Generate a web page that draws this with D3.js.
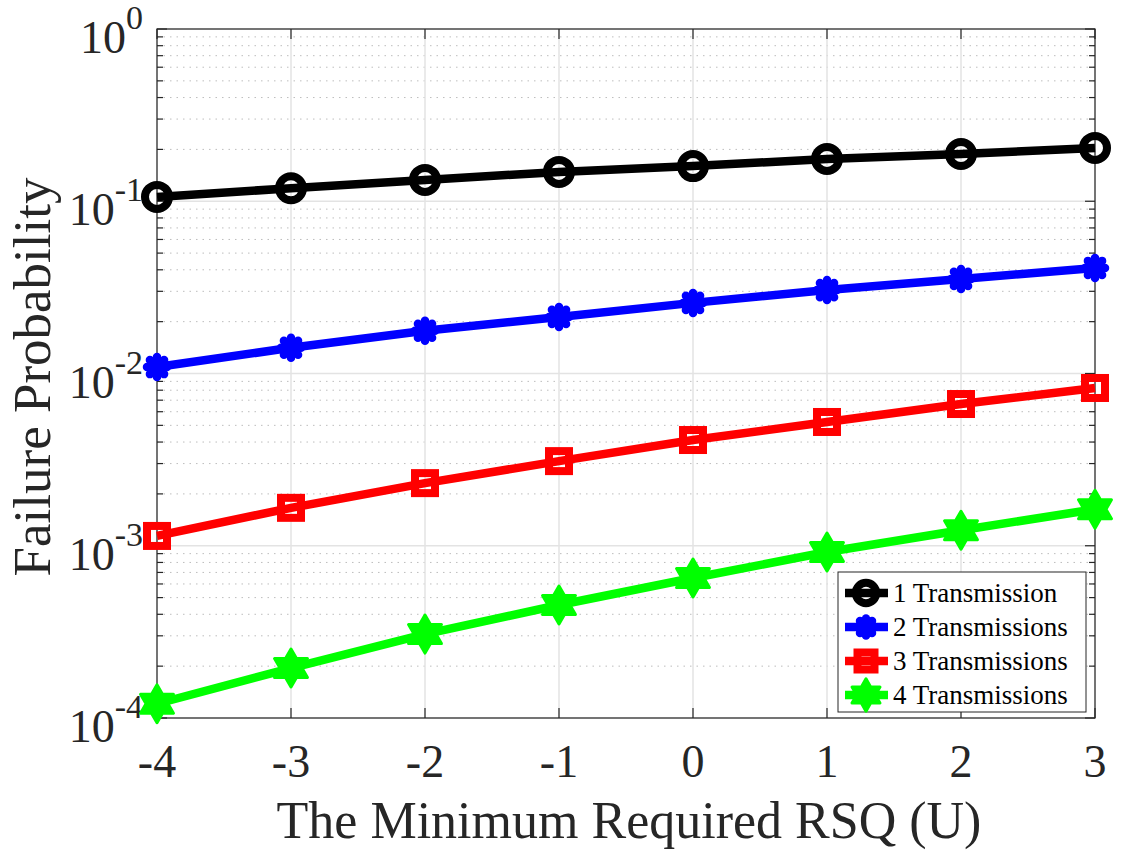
<!doctype html>
<html>
<head>
<meta charset="utf-8">
<script src="https://d3js.org/d3.v7.min.js"></script>
<style>
body { margin: 0; background: white; }
text { font-family: "Liberation Serif", "Times New Roman", serif; fill: #262626; }
</style>
</head>
<body>
<svg id="chart" width="1121" height="853"></svg>
<script>
// data
var xValues = [-4, -3, -2, -1, 0, 1, 2, 3];
var tx1 = [0.106, 0.119, 0.133, 0.148, 0.160, 0.176, 0.188, 0.204];
var tx2 = [0.0109, 0.0141, 0.0177, 0.0213, 0.0257, 0.0305, 0.0354, 0.0410];
var tx3 = [0.00114, 0.00166, 0.00231, 0.00310, 0.00411, 0.00523, 0.00665, 0.00824];
var tx4 = [0.000121, 0.000195, 0.000307, 0.000453, 0.000650, 0.000920, 0.00123, 0.00163];
var seriesNames = ["1 Transmission", "2 Transmissions", "3 Transmissions", "4 Transmissions"];
var yExponents = [0, -1, -2, -3, -4];

var series = [
  {name: seriesNames[0], vals: tx1, color: "#000000", marker: "circle"},
  {name: seriesNames[1], vals: tx2, color: "#0000ff", marker: "asterisk"},
  {name: seriesNames[2], vals: tx3, color: "#ff0000", marker: "square"},
  {name: seriesNames[3], vals: tx4, color: "#00ff00", marker: "hexagram"}
];

var svg = d3.select("#chart");
var pLeft = 157, pRight = 1095, pTop = 29, pBottom = 718;

var x = d3.scaleLinear().domain([-4, 3]).range([pLeft, pRight]);
var y = d3.scaleLog().domain([1e-4, 1]).range([pBottom, pTop]);

var grid = svg.append("g");
// minor grid (dotted)
yExponents.slice(1).forEach(function(e) {
  for (var k = 2; k <= 9; k++) {
    var v = k * Math.pow(10, e);
    grid.append("line")
      .attr("x1", pLeft).attr("x2", pRight)
      .attr("y1", y(v)).attr("y2", y(v))
      .style("stroke", "#bdbdbd").style("stroke-width", 1)
      .style("stroke-dasharray", "1.5,5");
  }
});
// major grid
yExponents.forEach(function(e) {
  grid.append("line")
    .attr("x1", pLeft).attr("x2", pRight)
    .attr("y1", y(Math.pow(10, e))).attr("y2", y(Math.pow(10, e)))
    .style("stroke", "#e3e3e3").style("stroke-width", 1.5);
});
xValues.forEach(function(v) {
  grid.append("line")
    .attr("x1", x(v)).attr("x2", x(v))
    .attr("y1", pTop).attr("y2", pBottom)
    .style("stroke", "#e3e3e3").style("stroke-width", 1.5);
});

// ticks
var ticks = svg.append("g").style("stroke", "#262626").style("stroke-width", 1.2);
xValues.forEach(function(v) {
  ticks.append("line").attr("x1", x(v)).attr("x2", x(v)).attr("y1", pBottom).attr("y2", pBottom - 10);
  ticks.append("line").attr("x1", x(v)).attr("x2", x(v)).attr("y1", pTop).attr("y2", pTop + 10);
});
yExponents.forEach(function(e) {
  var yy = y(Math.pow(10, e));
  ticks.append("line").attr("x1", pLeft).attr("x2", pLeft + 10).attr("y1", yy).attr("y2", yy);
  ticks.append("line").attr("x1", pRight).attr("x2", pRight - 10).attr("y1", yy).attr("y2", yy);
  if (e > -4) {
    for (var k = 2; k <= 9; k++) {
      var ym = y(k * Math.pow(10, e - 1));
      ticks.append("line").attr("x1", pLeft).attr("x2", pLeft + 6).attr("y1", ym).attr("y2", ym);
      ticks.append("line").attr("x1", pRight).attr("x2", pRight - 6).attr("y1", ym).attr("y2", ym);
    }
  }
});

// box
svg.append("rect")
  .attr("x", pLeft).attr("y", pTop)
  .attr("width", pRight - pLeft).attr("height", pBottom - pTop)
  .style("fill", "none").style("stroke", "#262626").style("stroke-width", 1.2);

// tick labels
xValues.forEach(function(v) {
  svg.append("text")
    .attr("x", x(v)).attr("y", 777)
    .attr("text-anchor", "middle")
    .style("font-size", "46px")
    .text(v < 0 ? "-" + Math.abs(v) : v);
});
yExponents.forEach(function(e) {
  var t = svg.append("text")
    .attr("x", 143).attr("y", y(Math.pow(10, e)) + 24)
    .attr("text-anchor", "end")
    .style("font-size", "46px");
  t.append("tspan").text("10");
  t.append("tspan").attr("dy", -24).style("font-size", "34px").text(e);
});

// axis labels
svg.append("text")
  .attr("x", 629).attr("y", 838)
  .attr("text-anchor", "middle")
  .style("font-size", "52px")
  .text("The Minimum Required RSQ (U)");
svg.append("text")
  .attr("transform", "translate(50,377) rotate(-90)")
  .attr("text-anchor", "middle")
  .style("font-size", "53px")
  .text("Failure Probability");

// marker drawing
function drawMarker(g, type, color, cx, cy, scale) {
  scale = scale || 1;
  if (type === "circle") {
    g.append("circle").attr("cx", cx).attr("cy", cy).attr("r", 12 * scale)
      .style("fill", "none").style("stroke", color).style("stroke-width", 8);
  } else if (type === "square") {
    var s = 20 * scale;
    g.append("rect").attr("x", cx - s / 2).attr("y", cy - s / 2).attr("width", s).attr("height", s)
      .style("fill", "none").style("stroke", color).style("stroke-width", 8);
  } else if (type === "asterisk") {
    var r = 10 * scale;
    [0, 45, 90, 135].forEach(function(a) {
      var rad = a * Math.PI / 180;
      g.append("line")
        .attr("x1", cx - r * Math.cos(rad)).attr("y1", cy - r * Math.sin(rad))
        .attr("x2", cx + r * Math.cos(rad)).attr("y2", cy + r * Math.sin(rad))
        .style("stroke", color).style("stroke-width", 8.5).style("stroke-linecap", "round");
    });
  } else if (type === "hexagram") {
    var ro = 19 * scale, ri = ro / Math.sqrt(3), pts = [];
    for (var i = 0; i < 12; i++) {
      var rr = i % 2 === 0 ? ro : ri;
      var ang = -Math.PI / 2 + i * Math.PI / 6;
      pts.push([cx + rr * Math.cos(ang), cy + rr * Math.sin(ang)]);
    }
    g.append("polygon").attr("points", pts.map(function(p) { return p.join(","); }).join(" "))
      .style("fill", color).style("stroke", color).style("stroke-width", 3)
      .style("stroke-linejoin", "round");
  }
}

var line = d3.line()
  .x(function(d, i) { return x(xValues[i]); })
  .y(function(d) { return y(d); });

series.forEach(function(s) {
  var g = svg.append("g");
  g.append("path").datum(s.vals).attr("d", line)
    .style("fill", "none").style("stroke", s.color).style("stroke-width", 8.5);
  s.vals.forEach(function(v, i) {
    drawMarker(g, s.marker, s.color, x(xValues[i]), y(v));
  });
});

// legend
var lg = svg.append("g");
lg.append("rect").attr("x", 838).attr("y", 572).attr("width", 248).attr("height", 140)
  .style("fill", "white").style("stroke", "#262626").style("stroke-width", 1);
series.forEach(function(s, i) {
  var ly = 593 + i * 34;
  lg.append("line").attr("x1", 845).attr("x2", 888).attr("y1", ly).attr("y2", ly)
    .style("stroke", s.color).style("stroke-width", 8.5);
  drawMarker(lg, s.marker, s.color, 866, ly, 0.85);
  lg.append("text").attr("x", 893).attr("y", ly + 9)
    .style("font-size", "27px").style("fill", "#000")
    .text(s.name);
});
</script>
</body>
</html>
